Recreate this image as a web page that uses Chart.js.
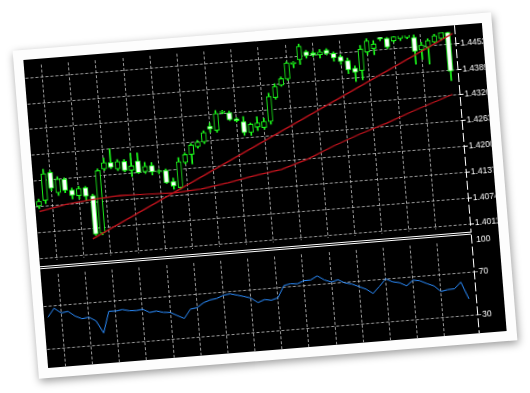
<!DOCTYPE html>
<html>
<head>
<meta charset="utf-8">
<script src="https://cdn.jsdelivr.net/npm/chart.js@4/dist/chart.umd.min.js"></script>
<style>
    html, body { margin: 0; padding: 0; background: #fff; width: 530px; height: 393px; overflow: hidden; }
    #paper { position: absolute; left: 24.75px; top: 31.25px; width: 480px; height: 329px; background: #fdfdfd;
             transform: rotate(-4.6deg); box-shadow: 1px 3px 8px rgba(0, 0, 0, 0.4); }
    #screen { position: absolute; left: 10px; top: 10px; width: 460px; height: 309px; background: #000; overflow: hidden; }
    #mainBox { position: absolute; left: 0; top: 0; width: 460px; height: 208px; }
    #rsiBox { position: absolute; left: 0; top: 210px; width: 460px; height: 118px; }
    #sep { position: absolute; left: 0; top: 207px; width: 432px; height: 1px; border-top: 1px solid #fff; border-bottom: 1px solid #fff; }
</style>
</head>
<body>
<div id="paper">
    <div id="screen">
        <div id="mainBox"><canvas id="main"></canvas></div>
        <div id="rsiBox"><canvas id="rsi"></canvas></div>
        <div id="sep"></div>
    </div>
</div>
<script>
var $ = function (id) {
    return document.getElementById(id)
}

// candles, one per bar, left to right
var opens = [1.4138, 1.4151, 1.4218, 1.4167, 1.4199, 1.4171, 1.4156, 1.4174, 1.4153, 1.4060,
    1.4216, 1.4230, 1.4213, 1.4230, 1.4207, 1.4229, 1.4201, 1.4215, 1.4198, 1.4200,
    1.4172, 1.4156, 1.4216, 1.4234, 1.4252, 1.4262, 1.4299, 1.4288, 1.4330, 1.4328,
    1.4312, 1.4304, 1.4276, 1.4288, 1.4285, 1.4299, 1.4356, 1.4385, 1.4399, 1.4434,
    1.4443, 1.4461, 1.4457, 1.4451, 1.4461, 1.4452, 1.4443, 1.4432, 1.4412, 1.4405,
    1.4449, 1.4456, 1.4483, 1.4478, 1.4471, 1.4475, 1.4476, 1.4475, 1.4443, 1.4449,
    1.4460, 1.4467, 1.4481]
var highs = [1.4155, 1.4227, 1.4222, 1.4206, 1.4202, 1.4176, 1.4179, 1.4177, 1.4157, 1.4217,
    1.4243, 1.4264, 1.4236, 1.4235, 1.4249, 1.4248, 1.4224, 1.4222, 1.4204, 1.4204,
    1.4180, 1.4229, 1.4239, 1.4261, 1.4267, 1.4289, 1.4307, 1.4336, 1.4335, 1.4332,
    1.4315, 1.4316, 1.4299, 1.4313, 1.4308, 1.4368, 1.4390, 1.4405, 1.4441, 1.4440,
    1.4490, 1.4465, 1.4461, 1.4464, 1.4465, 1.4456, 1.4447, 1.4438, 1.4417, 1.4466,
    1.4484, 1.4475, 1.4485, 1.4480, 1.4486, 1.4509, 1.4488, 1.4486, 1.4462, 1.4469,
    1.4479, 1.4486, 1.4483]
var lows = [1.4132, 1.4143, 1.4173, 1.4160, 1.4166, 1.4149, 1.4148, 1.4143, 1.4056, 1.4056,
    1.4212, 1.4215, 1.4209, 1.4205, 1.4192, 1.4198, 1.4197, 1.4192, 1.4194, 1.4168,
    1.4153, 1.4152, 1.4212, 1.4211, 1.4248, 1.4258, 1.4284, 1.4283, 1.4327, 1.4309,
    1.4304, 1.4270, 1.4269, 1.4279, 1.4281, 1.4292, 1.4352, 1.4382, 1.4396, 1.4425,
    1.4432, 1.4446, 1.4448, 1.4443, 1.4450, 1.4433, 1.4424, 1.4400, 1.4379, 1.4382,
    1.4442, 1.4441, 1.4474, 1.4453, 1.4467, 1.4470, 1.4473, 1.4410, 1.4420, 1.4407,
    1.4456, 1.4463, 1.4363]
var closes = [1.4150, 1.4216, 1.4179, 1.4200, 1.4171, 1.4158, 1.4173, 1.4153, 1.4059, 1.4213,
    1.4231, 1.4218, 1.4231, 1.4208, 1.4218, 1.4200, 1.4214, 1.4199, 1.4200, 1.4170,
    1.4161, 1.4219, 1.4235, 1.4257, 1.4263, 1.4285, 1.4292, 1.4329, 1.4333, 1.4311,
    1.4307, 1.4277, 1.4296, 1.4298, 1.4300, 1.4360, 1.4383, 1.4401, 1.4438, 1.4438,
    1.4476, 1.4452, 1.4452, 1.4458, 1.4453, 1.4441, 1.4431, 1.4409, 1.4402, 1.4457,
    1.4476, 1.4467, 1.4478, 1.4457, 1.4481, 1.4500, 1.4484, 1.4441, 1.4455, 1.4465,
    1.4475, 1.4482, 1.4386]

// slow moving average, read at every 4th bar
var maBars = [0, 4, 8, 12, 16, 20, 24, 28, 32, 36, 40, 44, 48, 52, 56, 60, 62]
var maValues = [1.4125, 1.4137, 1.4144, 1.4148, 1.4146, 1.4144, 1.4148, 1.4158, 1.4170,
    1.4180, 1.4200, 1.4227, 1.4251, 1.4272, 1.4296, 1.4318, 1.4329]

// straight red line from the swing low
var trendBars = [7.5, 62.7]
var trendValues = [1.4048, 1.4477]

// RSI, one per bar
var rsiValues = [60, 68, 63, 64, 59, 56, 57, 53, 41, 61,
    60.6, 61.6, 60, 59.6, 60.3, 56.8, 57.6, 55.8, 55.3, 51.8,
    48.5, 56.8, 57.8, 61.8, 64, 64.9, 67.4, 68.2, 66.5, 64.7,
    62.7, 57.9, 60.2, 59.1, 60.9, 72, 73.1, 72.6, 75, 75.2,
    78.5, 74.2, 71.7, 73.3, 69.8, 68.2, 65.3, 62.4, 57.8, 63.8,
    70.6, 67.2, 65.9, 62.4, 67.2, 66.2, 63, 60.3, 54.4, 55.7,
    56, 61.8, 45.4]

var priceTicks = [1.4011, 1.4074, 1.4137, 1.4200, 1.4263, 1.4326, 1.4389, 1.4452]
var rsiTicks = [30, 70, 100]
var gridBars = [2, 6, 10, 14, 18, 22, 26, 30, 34, 38, 42, 46, 50, 54, 58]

var green = '#1cff1c'
var red = '#c8141e'
var gridColor = 'rgba(205, 205, 205, 0.75)'
var xMin = -0.5
var xMax = 63.03

var wicks = opens.map(function (o, i) { return { x: i, y: [lows[i], highs[i]] } })
var bodies = opens.map(function (o, i) { return { x: i, y: [o, closes[i]] } })
var bodyFill = opens.map(function (o, i) { return closes[i] >= o ? '#000' : '#fff' })
var ma = maBars.map(function (b, i) { return { x: b, y: maValues[i] } })
var trend = trendBars.map(function (b, i) { return { x: b, y: trendValues[i] } })
var rsi = rsiValues.map(function (v, i) { return { x: i, y: v } })

// the price scale line is dashed on the screen
var axisLine = {
    id: 'axisLine',
    afterDraw: function (chart) {
        var ctx = chart.ctx
        var x = Math.round(chart.chartArea.right) + 0.5
        ctx.save()
        ctx.strokeStyle = '#fff'
        ctx.lineWidth = 1
        ctx.setLineDash([9, 3])
        ctx.beginPath()
        ctx.moveTo(x, 0)
        ctx.lineTo(x, chart.height)
        ctx.stroke()
        ctx.restore()
    }
}

function xScale() {
    return {
        type: 'linear', min: xMin, max: xMax, offset: false,
        afterBuildTicks: function (s) { s.ticks = gridBars.map(function (v) { return { value: v } }) },
        ticks: { display: false },
        grid: { color: gridColor, drawTicks: false, offset: false },
        border: { display: false, dash: [3, 2] }
    }
}

function yScale(min, max, ticks, label, gridFn) {
    return {
        position: 'right', min: min, max: max, beginAtZero: false,
        afterBuildTicks: function (s) { s.ticks = ticks.map(function (v) { return { value: v } }) },
        afterFit: function (s) { s.width = 28 },
        ticks: { color: '#fff', padding: 1, font: { family: 'Liberation Sans', size: 8.5 }, callback: label },
        grid: { color: gridFn, tickColor: gridFn === gridColor ? '#fff' : gridFn, tickLength: 4 },
        border: { display: false, dash: [3, 2] }
    }
}

var common = {
    responsive: true, maintainAspectRatio: false, animation: false, events: [],
    plugins: { legend: { display: false }, tooltip: { enabled: false } }
}

new Chart($('main'), {
    type: 'bar',
    data: {
        datasets: [
            { type: 'line', data: trend, borderColor: red, borderWidth: 1.2, pointRadius: 0, order: 0 },
            { type: 'line', data: ma, borderColor: red, borderWidth: 1.2, pointRadius: 0, order: 0 },
            { data: bodies, backgroundColor: bodyFill, borderColor: green, borderWidth: 1, borderSkipped: false,
              barThickness: 5, grouped: false, order: 1, clip: 0 },
            { data: wicks, backgroundColor: green, borderWidth: 0, barThickness: 1, grouped: false, order: 2, clip: 0 }
        ]
    },
    options: Object.assign({}, common, {
        layout: { padding: 0 },
        scales: {
            x: xScale(),
            y: yScale(1.40041, 1.44819, priceTicks, function (v) { return Number(v).toFixed(4) }, gridColor)
        }
    }),
    plugins: [axisLine]
})

var rsiGrid = function (c) { return c.tick && c.tick.value === 100 ? 'rgba(0,0,0,0)' : gridColor }

new Chart($('rsi'), {
    type: 'line',
    data: {
        datasets: [
            { data: rsi, borderColor: '#2b8dff', borderWidth: 1, pointRadius: 0, tension: 0 }
        ]
    },
    options: Object.assign({}, common, {
        layout: { padding: { top: 3.7, left: 0, right: 0, bottom: 0 } },
        scales: {
            x: xScale(),
            y: yScale(0, 100, rsiTicks, function (v) { return String(v) }, rsiGrid)
        }
    }),
    plugins: [axisLine]
})
</script>
</body>
</html>
